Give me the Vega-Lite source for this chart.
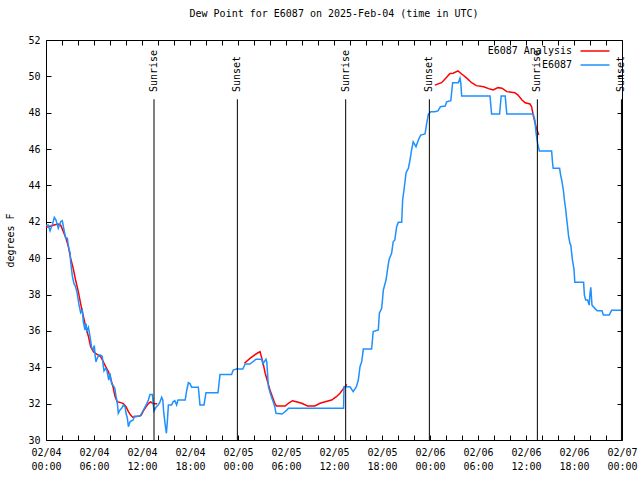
{
  "$schema": "https://vega.github.io/schema/vega-lite/v6.json",
  "width": 576,
  "height": 400,
  "autosize": {"type": "none"},
  "padding": {"left": 46, "top": 40, "right": 18, "bottom": 40},
  "title": {"text": "Dew Point for E6087 on 2025-Feb-04 (time in UTC)", "fontSize": 10, "fontWeight": "normal", "font": "DejaVu Sans Mono", "color": "#000", "offset": 16, "anchor": "middle"},
  "config": {
    "font": "DejaVu Sans Mono",
    "view": {"stroke": "#000", "strokeWidth": 1},
    "axis": {"domain": false, "grid": false, "labelFontSize": 10, "labelColor": "#000", "tickColor": "#000", "tickWidth": 1, "titleFontSize": 10, "titleFontWeight": "normal", "titleColor": "#000", "labelFlush": false, "labelOverlap": false},
    "legend": {"orient": "none", "legendX": 543, "legendY": 5, "symbolType": "M-2.9,0H2.9", "symbolSize": 100, "symbolStrokeWidth": 1.5, "labelAlign": "right", "labelOffset": -29, "labelFontSize": 10, "labelColor": "#000", "padding": 0, "rowPadding": 3, "labelFont": "DejaVu Sans Mono"}
  },
  "datasets": {
    "analysis": [
      {"seg": 1, "hour": 0.0, "dewpoint": 41.7}, {"seg": 1, "hour": 0.29, "dewpoint": 41.73}, {"seg": 1, "hour": 1.0, "dewpoint": 41.82}, {"seg": 1, "hour": 1.54, "dewpoint": 41.88}, {"seg": 1, "hour": 1.83, "dewpoint": 41.82}, {"seg": 1, "hour": 2.17, "dewpoint": 41.46}, {"seg": 1, "hour": 2.5, "dewpoint": 41.1}, {"seg": 1, "hour": 2.8, "dewpoint": 40.63}, {"seg": 1, "hour": 3.08, "dewpoint": 40.0}, {"seg": 1, "hour": 3.4, "dewpoint": 39.44}, {"seg": 1, "hour": 3.7, "dewpoint": 38.8}, {"seg": 1, "hour": 4.04, "dewpoint": 38.16}, {"seg": 1, "hour": 4.33, "dewpoint": 37.5}, {"seg": 1, "hour": 4.67, "dewpoint": 36.8}, {"seg": 1, "hour": 4.96, "dewpoint": 36.23}, {"seg": 1, "hour": 5.3, "dewpoint": 35.7}, {"seg": 1, "hour": 5.58, "dewpoint": 35.13}, {"seg": 1, "hour": 5.92, "dewpoint": 34.86}, {"seg": 1, "hour": 6.2, "dewpoint": 34.77}, {"seg": 1, "hour": 6.54, "dewpoint": 34.67}, {"seg": 1, "hour": 6.83, "dewpoint": 34.58}, {"seg": 1, "hour": 7.17, "dewpoint": 34.3}, {"seg": 1, "hour": 7.46, "dewpoint": 34.03}, {"seg": 1, "hour": 7.8, "dewpoint": 33.76}, {"seg": 1, "hour": 8.08, "dewpoint": 33.4}, {"seg": 1, "hour": 8.42, "dewpoint": 32.84}, {"seg": 1, "hour": 8.62, "dewpoint": 32.4}, {"seg": 1, "hour": 8.9, "dewpoint": 32.1}, {"seg": 1, "hour": 9.25, "dewpoint": 32.07}, {"seg": 1, "hour": 9.67, "dewpoint": 32.0}, {"seg": 1, "hour": 10.0, "dewpoint": 31.83}, {"seg": 1, "hour": 10.3, "dewpoint": 31.56}, {"seg": 1, "hour": 10.58, "dewpoint": 31.37}, {"seg": 1, "hour": 10.83, "dewpoint": 31.25}, {"seg": 1, "hour": 11.1, "dewpoint": 31.28}, {"seg": 1, "hour": 11.54, "dewpoint": 31.3}, {"seg": 1, "hour": 11.9, "dewpoint": 31.37}, {"seg": 1, "hour": 12.17, "dewpoint": 31.6}, {"seg": 1, "hour": 12.5, "dewpoint": 31.83}, {"seg": 1, "hour": 12.8, "dewpoint": 32.0}, {"seg": 1, "hour": 13.08, "dewpoint": 32.1}, {"seg": 1, "hour": 13.4, "dewpoint": 32.0}, {"seg": 1, "hour": 13.9, "dewpoint": 32.0},
      {"seg": 2, "hour": 24.8, "dewpoint": 34.22}, {"seg": 2, "hour": 25.5, "dewpoint": 34.49}, {"seg": 2, "hour": 26.25, "dewpoint": 34.73}, {"seg": 2, "hour": 26.75, "dewpoint": 34.86}, {"seg": 2, "hour": 27.1, "dewpoint": 34.3}, {"seg": 2, "hour": 27.4, "dewpoint": 33.67}, {"seg": 2, "hour": 27.7, "dewpoint": 33.2}, {"seg": 2, "hour": 28.0, "dewpoint": 32.75}, {"seg": 2, "hour": 28.3, "dewpoint": 32.38}, {"seg": 2, "hour": 28.6, "dewpoint": 32.02}, {"seg": 2, "hour": 28.8, "dewpoint": 31.87}, {"seg": 2, "hour": 29.4, "dewpoint": 31.87}, {"seg": 2, "hour": 29.9, "dewpoint": 31.87}, {"seg": 2, "hour": 30.3, "dewpoint": 32.02}, {"seg": 2, "hour": 30.8, "dewpoint": 32.16}, {"seg": 2, "hour": 31.3, "dewpoint": 32.1}, {"seg": 2, "hour": 31.96, "dewpoint": 32.02}, {"seg": 2, "hour": 32.7, "dewpoint": 31.87}, {"seg": 2, "hour": 33.6, "dewpoint": 31.87}, {"seg": 2, "hour": 34.25, "dewpoint": 32.02}, {"seg": 2, "hour": 34.9, "dewpoint": 32.1}, {"seg": 2, "hour": 35.7, "dewpoint": 32.2}, {"seg": 2, "hour": 36.3, "dewpoint": 32.38}, {"seg": 2, "hour": 36.75, "dewpoint": 32.57}, {"seg": 2, "hour": 37.2, "dewpoint": 32.84}, {"seg": 2, "hour": 37.6, "dewpoint": 33.06},
      {"seg": 3, "hour": 48.6, "dewpoint": 49.52}, {"seg": 3, "hour": 49.45, "dewpoint": 49.65}, {"seg": 3, "hour": 50.08, "dewpoint": 49.95}, {"seg": 3, "hour": 50.5, "dewpoint": 50.16}, {"seg": 3, "hour": 50.9, "dewpoint": 50.17}, {"seg": 3, "hour": 51.5, "dewpoint": 50.3}, {"seg": 3, "hour": 51.96, "dewpoint": 50.13}, {"seg": 3, "hour": 52.6, "dewpoint": 49.9}, {"seg": 3, "hour": 53.2, "dewpoint": 49.65}, {"seg": 3, "hour": 53.8, "dewpoint": 49.49}, {"seg": 3, "hour": 54.7, "dewpoint": 49.43}, {"seg": 3, "hour": 55.5, "dewpoint": 49.3}, {"seg": 3, "hour": 55.9, "dewpoint": 49.25}, {"seg": 3, "hour": 56.5, "dewpoint": 49.38}, {"seg": 3, "hour": 57.0, "dewpoint": 49.35}, {"seg": 3, "hour": 57.6, "dewpoint": 49.16}, {"seg": 3, "hour": 58.6, "dewpoint": 49.1}, {"seg": 3, "hour": 59.0, "dewpoint": 48.97}, {"seg": 3, "hour": 59.5, "dewpoint": 48.7}, {"seg": 3, "hour": 59.9, "dewpoint": 48.55}, {"seg": 3, "hour": 60.5, "dewpoint": 48.48}, {"seg": 3, "hour": 60.7, "dewpoint": 48.33}, {"seg": 3, "hour": 60.9, "dewpoint": 47.87}, {"seg": 3, "hour": 61.1, "dewpoint": 47.5}, {"seg": 3, "hour": 61.3, "dewpoint": 47.14}, {"seg": 3, "hour": 61.6, "dewpoint": 46.77}
    ],
    "obs": [
      {"hour": 0.0, "dewpoint": 41.8}, {"hour": 0.29, "dewpoint": 41.82}, {"hour": 0.5, "dewpoint": 41.5}, {"hour": 0.83, "dewpoint": 41.9}, {"hour": 1.04, "dewpoint": 42.25}, {"hour": 1.25, "dewpoint": 42.1}, {"hour": 1.54, "dewpoint": 41.64}, {"hour": 1.83, "dewpoint": 42.0}, {"hour": 2.04, "dewpoint": 42.06}, {"hour": 2.25, "dewpoint": 41.55}, {"hour": 2.46, "dewpoint": 41.1}, {"hour": 2.67, "dewpoint": 41.1}, {"hour": 2.75, "dewpoint": 40.8}, {"hour": 2.87, "dewpoint": 40.5}, {"hour": 3.0, "dewpoint": 40.3}, {"hour": 3.08, "dewpoint": 39.8}, {"hour": 3.3, "dewpoint": 39.0}, {"hour": 3.5, "dewpoint": 38.6}, {"hour": 3.7, "dewpoint": 38.43}, {"hour": 3.9, "dewpoint": 38.07}, {"hour": 4.1, "dewpoint": 37.5}, {"hour": 4.33, "dewpoint": 37.0}, {"hour": 4.54, "dewpoint": 37.15}, {"hour": 4.67, "dewpoint": 36.5}, {"hour": 4.87, "dewpoint": 36.05}, {"hour": 5.0, "dewpoint": 36.4}, {"hour": 5.1, "dewpoint": 36.0}, {"hour": 5.3, "dewpoint": 36.2}, {"hour": 5.5, "dewpoint": 35.7}, {"hour": 5.7, "dewpoint": 35.1}, {"hour": 5.9, "dewpoint": 34.95}, {"hour": 6.04, "dewpoint": 35.2}, {"hour": 6.15, "dewpoint": 34.6}, {"hour": 6.25, "dewpoint": 34.3}, {"hour": 6.4, "dewpoint": 34.5}, {"hour": 6.6, "dewpoint": 34.67}, {"hour": 6.8, "dewpoint": 34.67}, {"hour": 7.04, "dewpoint": 34.6}, {"hour": 7.15, "dewpoint": 34.1}, {"hour": 7.25, "dewpoint": 33.8}, {"hour": 7.46, "dewpoint": 33.94}, {"hour": 7.6, "dewpoint": 33.85}, {"hour": 7.75, "dewpoint": 33.5}, {"hour": 7.85, "dewpoint": 33.3}, {"hour": 8.0, "dewpoint": 33.67}, {"hour": 8.2, "dewpoint": 33.1}, {"hour": 8.4, "dewpoint": 33.0}, {"hour": 8.6, "dewpoint": 32.85}, {"hour": 8.75, "dewpoint": 32.4}, {"hour": 8.9, "dewpoint": 32.1}, {"hour": 9.04, "dewpoint": 31.47}, {"hour": 9.25, "dewpoint": 31.65}, {"hour": 9.46, "dewpoint": 31.74}, {"hour": 9.67, "dewpoint": 31.93}, {"hour": 9.9, "dewpoint": 31.8}, {"hour": 10.0, "dewpoint": 31.47}, {"hour": 10.17, "dewpoint": 31.2}, {"hour": 10.3, "dewpoint": 30.73}, {"hour": 10.5, "dewpoint": 31.0}, {"hour": 10.7, "dewpoint": 31.06}, {"hour": 10.9, "dewpoint": 31.1}, {"hour": 11.04, "dewpoint": 31.3}, {"hour": 11.75, "dewpoint": 31.3}, {"hour": 11.96, "dewpoint": 31.47}, {"hour": 12.17, "dewpoint": 31.65}, {"hour": 12.4, "dewpoint": 31.83}, {"hour": 12.6, "dewpoint": 32.0}, {"hour": 12.8, "dewpoint": 32.2}, {"hour": 13.0, "dewpoint": 32.5}, {"hour": 13.3, "dewpoint": 32.5}, {"hour": 13.4, "dewpoint": 32.0}, {"hour": 13.5, "dewpoint": 31.6}, {"hour": 13.75, "dewpoint": 31.8}, {"hour": 14.04, "dewpoint": 31.93}, {"hour": 14.25, "dewpoint": 32.1}, {"hour": 14.46, "dewpoint": 32.35}, {"hour": 14.6, "dewpoint": 32.2}, {"hour": 14.7, "dewpoint": 31.6}, {"hour": 14.8, "dewpoint": 31.2}, {"hour": 14.96, "dewpoint": 30.64}, {"hour": 15.05, "dewpoint": 30.37}, {"hour": 15.15, "dewpoint": 30.9}, {"hour": 15.3, "dewpoint": 31.93}, {"hour": 15.7, "dewpoint": 31.93}, {"hour": 15.9, "dewpoint": 32.1}, {"hour": 16.1, "dewpoint": 32.16}, {"hour": 16.33, "dewpoint": 31.93}, {"hour": 16.5, "dewpoint": 32.2}, {"hour": 17.4, "dewpoint": 32.2}, {"hour": 17.6, "dewpoint": 32.75}, {"hour": 17.8, "dewpoint": 33.15}, {"hour": 18.0, "dewpoint": 33.1}, {"hour": 18.2, "dewpoint": 32.9}, {"hour": 19.04, "dewpoint": 32.9}, {"hour": 19.25, "dewpoint": 31.93}, {"hour": 19.75, "dewpoint": 31.93}, {"hour": 20.0, "dewpoint": 32.6}, {"hour": 21.5, "dewpoint": 32.6}, {"hour": 21.75, "dewpoint": 33.6}, {"hour": 23.2, "dewpoint": 33.6}, {"hour": 23.4, "dewpoint": 33.85}, {"hour": 23.8, "dewpoint": 33.9}, {"hour": 24.6, "dewpoint": 33.9}, {"hour": 24.9, "dewpoint": 34.18}, {"hour": 25.5, "dewpoint": 34.18}, {"hour": 25.7, "dewpoint": 34.25}, {"hour": 26.25, "dewpoint": 34.44}, {"hour": 26.96, "dewpoint": 34.44}, {"hour": 27.1, "dewpoint": 34.18}, {"hour": 27.5, "dewpoint": 34.44}, {"hour": 27.6, "dewpoint": 34.3}, {"hour": 27.8, "dewpoint": 32.93}, {"hour": 28.1, "dewpoint": 32.47}, {"hour": 28.4, "dewpoint": 32.1}, {"hour": 28.6, "dewpoint": 31.83}, {"hour": 28.75, "dewpoint": 31.47}, {"hour": 29.5, "dewpoint": 31.43}, {"hour": 29.7, "dewpoint": 31.5}, {"hour": 30.0, "dewpoint": 31.6}, {"hour": 30.3, "dewpoint": 31.74}, {"hour": 37.2, "dewpoint": 31.74}, {"hour": 37.25, "dewpoint": 32.93}, {"hour": 38.0, "dewpoint": 32.93}, {"hour": 38.4, "dewpoint": 32.66}, {"hour": 38.8, "dewpoint": 32.93}, {"hour": 39.04, "dewpoint": 33.3}, {"hour": 39.25, "dewpoint": 34.03}, {"hour": 39.46, "dewpoint": 34.3}, {"hour": 39.67, "dewpoint": 35.0}, {"hour": 40.7, "dewpoint": 35.0}, {"hour": 40.9, "dewpoint": 35.96}, {"hour": 41.54, "dewpoint": 36.05}, {"hour": 41.67, "dewpoint": 36.97}, {"hour": 41.96, "dewpoint": 37.24}, {"hour": 42.17, "dewpoint": 38.25}, {"hour": 42.5, "dewpoint": 38.8}, {"hour": 42.8, "dewpoint": 39.7}, {"hour": 42.9, "dewpoint": 39.94}, {"hour": 43.2, "dewpoint": 40.27}, {"hour": 43.4, "dewpoint": 40.9}, {"hour": 43.6, "dewpoint": 41.0}, {"hour": 43.83, "dewpoint": 41.73}, {"hour": 44.04, "dewpoint": 41.97}, {"hour": 44.46, "dewpoint": 41.97}, {"hour": 44.58, "dewpoint": 43.2}, {"hour": 44.75, "dewpoint": 43.75}, {"hour": 45.0, "dewpoint": 44.67}, {"hour": 45.17, "dewpoint": 44.85}, {"hour": 45.3, "dewpoint": 44.94}, {"hour": 45.5, "dewpoint": 45.4}, {"hour": 45.7, "dewpoint": 45.95}, {"hour": 45.9, "dewpoint": 46.4}, {"hour": 46.25, "dewpoint": 46.13}, {"hour": 46.54, "dewpoint": 46.5}, {"hour": 46.83, "dewpoint": 46.77}, {"hour": 47.38, "dewpoint": 46.83}, {"hour": 47.58, "dewpoint": 47.4}, {"hour": 47.8, "dewpoint": 47.93}, {"hour": 48.1, "dewpoint": 48.06}, {"hour": 48.6, "dewpoint": 48.06}, {"hour": 49.0, "dewpoint": 48.1}, {"hour": 49.3, "dewpoint": 48.33}, {"hour": 49.9, "dewpoint": 48.37}, {"hour": 50.08, "dewpoint": 48.6}, {"hour": 50.6, "dewpoint": 48.66}, {"hour": 50.83, "dewpoint": 49.65}, {"hour": 51.54, "dewpoint": 49.65}, {"hour": 51.75, "dewpoint": 49.9}, {"hour": 51.85, "dewpoint": 49.65}, {"hour": 51.96, "dewpoint": 48.92}, {"hour": 55.5, "dewpoint": 48.92}, {"hour": 55.7, "dewpoint": 47.93}, {"hour": 56.7, "dewpoint": 47.93}, {"hour": 56.9, "dewpoint": 48.92}, {"hour": 57.4, "dewpoint": 48.92}, {"hour": 57.6, "dewpoint": 47.93}, {"hour": 60.9, "dewpoint": 47.93}, {"hour": 61.1, "dewpoint": 47.6}, {"hour": 61.25, "dewpoint": 46.9}, {"hour": 61.46, "dewpoint": 46.3}, {"hour": 61.67, "dewpoint": 45.9}, {"hour": 63.2, "dewpoint": 45.9}, {"hour": 63.33, "dewpoint": 45.2}, {"hour": 63.4, "dewpoint": 44.94}, {"hour": 64.2, "dewpoint": 44.94}, {"hour": 64.33, "dewpoint": 44.57}, {"hour": 64.46, "dewpoint": 44.3}, {"hour": 64.67, "dewpoint": 43.75}, {"hour": 64.8, "dewpoint": 43.2}, {"hour": 64.96, "dewpoint": 42.69}, {"hour": 65.08, "dewpoint": 42.19}, {"hour": 65.2, "dewpoint": 41.73}, {"hour": 65.33, "dewpoint": 41.18}, {"hour": 65.5, "dewpoint": 40.8}, {"hour": 65.6, "dewpoint": 40.72}, {"hour": 65.8, "dewpoint": 39.9}, {"hour": 66.0, "dewpoint": 39.39}, {"hour": 66.1, "dewpoint": 38.67}, {"hour": 67.2, "dewpoint": 38.67}, {"hour": 67.3, "dewpoint": 37.97}, {"hour": 67.46, "dewpoint": 37.7}, {"hour": 67.7, "dewpoint": 37.7}, {"hour": 67.9, "dewpoint": 37.42}, {"hour": 68.0, "dewpoint": 38.07}, {"hour": 68.1, "dewpoint": 38.4}, {"hour": 68.25, "dewpoint": 37.42}, {"hour": 68.6, "dewpoint": 37.24}, {"hour": 68.9, "dewpoint": 37.11}, {"hour": 69.5, "dewpoint": 37.11}, {"hour": 69.67, "dewpoint": 36.87}, {"hour": 70.4, "dewpoint": 36.87}, {"hour": 70.7, "dewpoint": 37.13}, {"hour": 72.0, "dewpoint": 37.13}
    ],
    "sun": [
      {"event": "Sunrise", "hour": 13.5}, {"event": "Sunset", "hour": 23.92}, {"event": "Sunrise", "hour": 37.46}, {"event": "Sunset", "hour": 47.92}, {"event": "Sunrise", "hour": 61.42}, {"event": "Sunset", "hour": 71.93}
    ]
  },
  "layer": [
    {
      "data": {"name": "analysis"},
      "mark": {"type": "line", "strokeWidth": 1.5},
      "encoding": {
        "x": {"field": "hour", "type": "quantitative", "scale": {"domain": [0, 72], "nice": false, "zero": false}, "axis": {"orient": "bottom", "labels": false, "values": [0,2,4,6,8,10,12,14,16,18,20,22,24,26,28,30,32,34,36,38,40,42,44,46,48,50,52,54,56,58,60,62,64,66,68,70,72], "tickSize": -5, "title": null}},
        "y": {"field": "dewpoint", "type": "quantitative", "scale": {"domain": [30, 52], "nice": false, "zero": false}, "axis": {"orient": "left", "labels": false, "values": [30,32,34,36,38,40,42,44,46,48,50,52], "tickSize": -5, "title": null}},
        "detail": {"field": "seg", "type": "nominal"},
        "color": {"datum": "E6087 Analysis", "type": "nominal", "scale": {"domain": ["E6087 Analysis", "E6087"], "range": ["#ff0000", "#1e90ff"]}, "legend": {"title": null}}
      }
    },
    {
      "data": {"name": "obs"},
      "mark": {"type": "line", "strokeWidth": 1.5},
      "encoding": {
        "x": {"field": "hour", "type": "quantitative", "axis": {"orient": "bottom", "ticks": false, "values": [0,6,12,18,24,30,36,42,48,54,60,66,72], "labelExpr": "['02/0' + (4 + floor(datum.value / 24)), (datum.value % 24 < 10 ? '0' : '') + (datum.value % 24) + ':00']", "labelPadding": 7, "labelLineHeight": 14, "labelBaseline": "top", "title": null}},
        "y": {"field": "dewpoint", "type": "quantitative", "axis": {"orient": "left", "ticks": false, "values": [30,32,34,36,38,40,42,44,46,48,50,52], "labelPadding": 6, "title": "degrees F", "titlePadding": 12}},
        "color": {"datum": "E6087", "type": "nominal"}
      }
    },
    {
      "data": {"name": "sun"},
      "mark": {"type": "rule", "color": "#000", "strokeWidth": 1},
      "encoding": {
        "x": {"field": "hour", "type": "quantitative", "axis": {"orient": "top", "labels": false, "values": [0,2,4,6,8,10,12,14,16,18,20,22,24,26,28,30,32,34,36,38,40,42,44,46,48,50,52,54,56,58,60,62,64,66,68,70,72], "tickSize": -5, "title": null}},
        "y": {"datum": 48.74, "type": "quantitative", "axis": {"orient": "right", "labels": false, "values": [30,32,34,36,38,40,42,44,46,48,50,52], "tickSize": -5, "title": null}},
        "y2": {"datum": 30}
      }
    },
    {
      "data": {"name": "sun"},
      "mark": {"type": "text", "angle": 270, "align": "left", "baseline": "middle", "fontSize": 10, "color": "#000"},
      "encoding": {
        "x": {"field": "hour", "type": "quantitative", "axis": null},
        "y": {"datum": 49.14, "type": "quantitative", "axis": null},
        "text": {"field": "event", "type": "nominal"}
      }
    }
  ],
  "resolve": {"axis": {"x": "independent", "y": "independent"}}
}
